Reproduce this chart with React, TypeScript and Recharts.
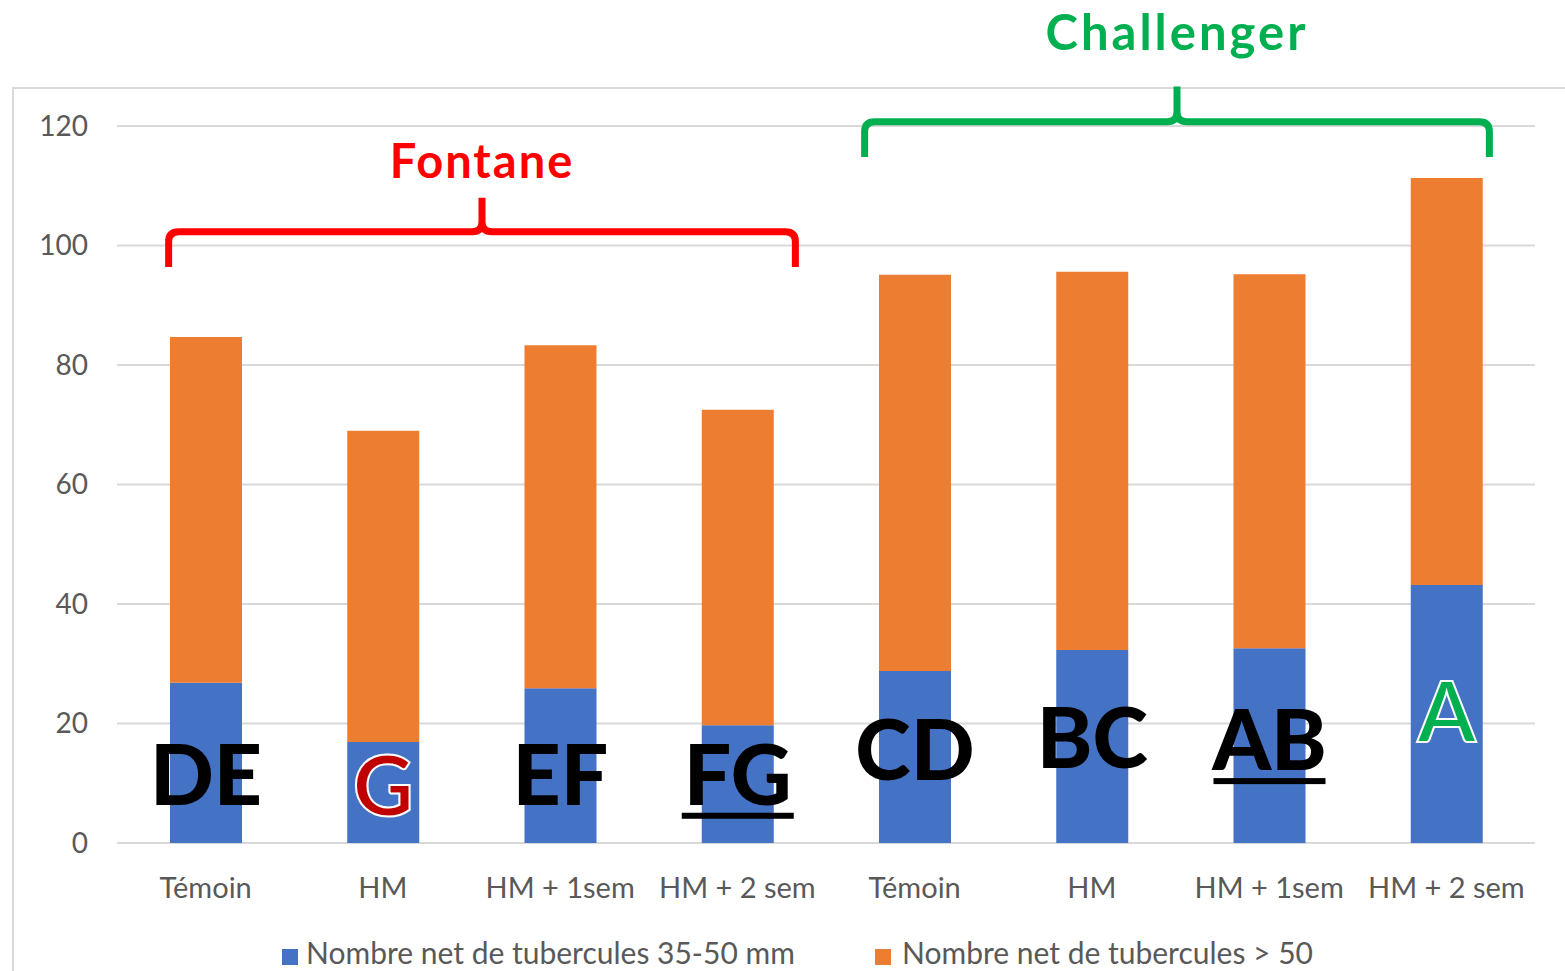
import { BarChart, Bar, XAxis, YAxis, CartesianGrid, LabelList } from 'recharts';

const categories = ['Témoin', 'HM', 'HM + 1sem', 'HM + 2 sem', 'Témoin', 'HM', 'HM + 1sem', 'HM + 2 sem'];
const small = [26.8, 16.9, 25.9, 19.7, 28.8, 32.3, 32.6, 43.2];
const large = [57.9, 52.1, 57.4, 52.8, 66.3, 63.3, 62.6, 68.1];
const yTicks = [0, 20, 40, 60, 80, 100, 120];

// lettres de groupes statistiques
const letters = ['DE', 'G', 'EF', 'FG', 'CD', 'BC', 'AB', 'A'];
const letterBase = [6.4, 4.6, 6.4, 6.4, 10.5, 12.6, 12.2, 16.9];
const letterColor = ['#000', '#C00000', '#000', '#000', '#000', '#000', '#000', '#00B050'];
const letterUnderline = [false, false, false, true, false, false, true, false];

const seriesNames = ['Nombre net de tubercules 35-50 mm', 'Nombre net de tubercules > 50'];
const BLUE = '#4472C4';
const ORANGE = '#ED7D31';

const W = 1565;
const H = 971;
const LEFT = 117;
const RIGHT = 1535;
const TOP = 126;
const BOTTOM = 843;
const YMAX = 120;

const data = categories.map((c, i) => ({ id: i, name: c, small: small[i], large: large[i] }));

const bandW = (RIGHT - LEFT) / categories.length;
const xBand = (i: number) => LEFT + (i + 0.5) * bandW;
const yPx = (v: number) => BOTTOM - (v / YMAX) * (BOTTOM - TOP);

function bracket(x1: number, x2: number, yLine: number, yArm: number, yTop: number) {
  const mid = (x1 + x2) / 2;
  const r = 10;
  return `M${x1} ${yArm} L${x1} ${yLine + r} Q${x1} ${yLine} ${x1 + r} ${yLine} L${mid - r} ${yLine} Q${mid} ${yLine} ${mid} ${yLine - r} L${mid} ${yTop} M${mid} ${yLine - r} Q${mid} ${yLine} ${mid + r} ${yLine} L${x2 - r} ${yLine} Q${x2} ${yLine} ${x2} ${yLine + r} L${x2} ${yArm}`;
}

const LetterLabel = (props: any) => {
  const { x, y, width, height, index } = props;
  const ppu = height / small[index];
  const cx = x + width / 2;
  const base = y + height - letterBase[index] * ppu;
  const color = letterColor[index];
  const outlined = color !== '#000';
  return (
    <g>
      <text
        x={cx}
        y={base}
        textAnchor="middle"
        fontFamily="Lato, 'DejaVu Sans', sans-serif"
        fontWeight={outlined ? 700 : 900}
        fontSize={84}
        fill={color}
        stroke={outlined ? '#fff' : 'none'}
        strokeWidth={outlined ? 2 : 0}
      >
        {letters[index]}
      </text>
      {letterUnderline[index] && (
        <rect x={cx - 56} y={base + 8} width={112} height={6} fill="#000" />
      )}
    </g>
  );
};

export default function App() {
  const fontane = bracket(xBand(0) - 37, xBand(3) + 58, yPx(102.3), yPx(96.4), yPx(108));
  const challenger = bracket(xBand(4) - 50, xBand(7) + 43, yPx(120.7), yPx(114.8), yPx(126.6));
  return (
    <div style={{ position: 'relative', width: W, height: H, overflow: 'hidden', background: '#fff' }}>
      <style>{`body{margin:0}`}</style>
      <svg width={W} height={H} style={{ position: 'absolute', left: 0, top: 0 }}>
        <path d={`M13 ${H} L13 88 L${W} 88`} fill="none" stroke="#d9d9d9" strokeWidth={2} />
      </svg>
      <div style={{ position: 'absolute', left: 0, top: 0 }}>
        <BarChart width={W} height={H} data={data} margin={{ top: TOP, right: W - RIGHT, left: 12, bottom: H - BOTTOM - 30 }}>
          <CartesianGrid vertical={false} stroke="#d9d9d9" strokeWidth={2} />
          <XAxis
            dataKey="id"
            height={30}
            axisLine={false}
            tickLine={false}
            tickSize={0}
            tickMargin={34}
            tickFormatter={(v: number) => categories[v]}
            tick={{ fontFamily: 'Lato, sans-serif', fontSize: 29, fill: '#595959' }}
            interval={0}
          />
          <YAxis
            width={105}
            domain={[0, YMAX]}
            ticks={yTicks}
            axisLine={false}
            tickLine={false}
            tickSize={0}
            tickMargin={29}
            tick={{ fontFamily: 'Lato, sans-serif', fontSize: 28, fill: '#595959' }}
          />
          <Bar dataKey="small" stackId="a" fill={BLUE} barSize={72} isAnimationActive={false}>
            <LabelList dataKey="small" content={LetterLabel} />
          </Bar>
          <Bar dataKey="large" stackId="a" fill={ORANGE} barSize={72} isAnimationActive={false} />
        </BarChart>
      </div>
      <svg width={W} height={H} style={{ position: 'absolute', left: 0, top: 0, pointerEvents: 'none' }}>
        <path d={fontane} fill="none" stroke="#FF0000" strokeWidth={7} strokeLinejoin="round" />
        <path d={challenger} fill="none" stroke="#00B050" strokeWidth={7} strokeLinejoin="round" />
        <text x={(xBand(0) - 37 + xBand(3) + 58) / 2} y={178} textAnchor="middle" fontFamily="Lato, sans-serif" fontWeight={700} fontSize={47} letterSpacing={2} fill="#FF0000">
          Fontane
        </text>
        <text x={(xBand(4) - 50 + xBand(7) + 43) / 2} y={50} textAnchor="middle" fontFamily="Lato, sans-serif" fontWeight={700} fontSize={49} letterSpacing={3} fill="#00B050">
          Challenger
        </text>
        <g fontFamily="Lato, sans-serif" fontSize={30} fill="#595959">
          <rect x={282} y={949} width={16} height={16} fill={BLUE} />
          <text x={306} y={964}>{seriesNames[0]}</text>
          <rect x={875} y={949} width={16} height={16} fill={ORANGE} />
          <text x={902} y={964}>{seriesNames[1]}</text>
        </g>
      </svg>
    </div>
  );
}
